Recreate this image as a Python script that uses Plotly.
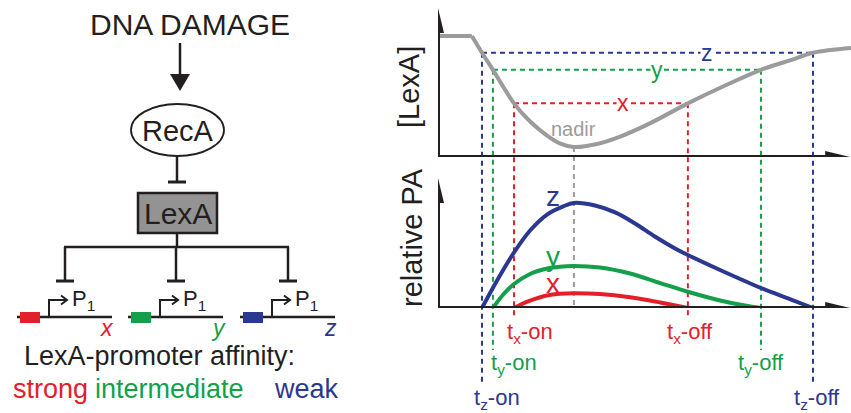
import plotly.graph_objects as go

W, H = 851, 413

# ---------------- data ----------------
genes = ["x", "y", "z"]
affinity = ["strong", "intermediate", "weak"]
gene_colors = ["#e3202a", "#14a04b", "#2b3891"]
GRAY = "#9b9b9b"
BLACK = "#231f20"

# LexA level at which each promoter switches on/off, and the times
thresholds = [3.6, 5.85, 7.0]
t_on = [18.4, 13.3, 10.65]
t_off = [60.5, 78.2, 90.8]
t_nadir = 32.9
lexa_nadir = 0.67

# [LexA] time course
lexa_flat_t = [0, 8.2]
lexa_flat_v = [8.12, 8.12]
lexa_t = [8.2, 10.65, 13.3, 18.4, 22.3, 26.4, 29.5, 32.9, 38.5, 44.1, 51.3, 60.5,
          69.0, 78.2, 85.2, 90.8, 100]
lexa_v = [8.12, 7.0, 5.85, 3.6, 2.38, 1.44, 0.91, 0.67, 0.87, 1.37, 2.26, 3.6,
          4.73, 5.85, 6.48, 7.0, 7.32]

# relative promoter activity (PA)
pa_x_t = [18.4, 20.3, 22.3, 26.4, 29.5, 32.9, 39.2, 46.5, 53.8, 60.5]
pa_x_v = [0, 0.31, 0.57, 0.96, 1.09, 1.13, 1.07, 0.82, 0.42, 0]
pa_y_t = [13.3, 15.7, 18.4, 22.3, 26.4, 29.5, 32.9, 39.2, 46.5, 53.8, 60.5, 68.3, 74.3, 78.2]
pa_y_v = [0, 1.0, 1.85, 2.62, 3.04, 3.18, 3.23, 3.11, 2.65, 1.92, 1.25, 0.58, 0.19, 0]
pa_z_t = [10.65, 14.3, 18.4, 22.3, 26.4, 30.3, 32.9, 38.0, 42.9, 47.7, 52.5, 57.4, 60.5,
          68.3, 78.2, 85.2, 90.8]
pa_z_v = [0, 2.12, 4.27, 5.96, 7.19, 7.81, 8.08, 7.88, 7.35, 6.5, 5.5, 4.58, 4.08,
          2.92, 1.54, 0.69, 0]
pa_t = [pa_x_t, pa_y_t, pa_z_t]
pa_v = [pa_x_v, pa_y_v, pa_z_v]

on_labels = ["t<sub>x</sub>-on", "t<sub>y</sub>-on", "t<sub>z</sub>-on"]
off_labels = ["t<sub>x</sub>-off", "t<sub>y</sub>-off", "t<sub>z</sub>-off"]

# ---------------- layout helpers ----------------
FONT = "Liberation Sans, Arial, sans-serif"
TOP_DOM = [1 - 157 / H, 1 - 8 / H]
BOT_DOM = [1 - 308 / H, 1 - 178 / H]
YR = [0, 10]
XR = [0, 100]


def pp(py):
    return 1 - py / H


def top_paper(v):
    return TOP_DOM[0] + (v - YR[0]) / (YR[1] - YR[0]) * (TOP_DOM[1] - TOP_DOM[0])


def bot_paper(v):
    return BOT_DOM[0] + (v - YR[0]) / (YR[1] - YR[0]) * (BOT_DOM[1] - BOT_DOM[0])


fig = go.Figure()

fig.add_trace(go.Scatter(x=lexa_flat_t, y=lexa_flat_v, mode="lines",
                         line=dict(color=GRAY, width=4), xaxis="x", yaxis="y",
                         hoverinfo="skip", showlegend=False))
fig.add_trace(go.Scatter(x=lexa_t, y=lexa_v, mode="lines",
                         line=dict(color=GRAY, width=4, shape="spline", smoothing=1.0),
                         xaxis="x", yaxis="y", hoverinfo="skip", showlegend=False))
for i, g in enumerate(genes):
    fig.add_trace(go.Scatter(x=pa_t[i], y=pa_v[i], mode="lines",
                             line=dict(color=gene_colors[i], width=4, shape="spline", smoothing=1.0),
                             xaxis="x", yaxis="y2", hoverinfo="skip", showlegend=False))

shapes = []
ann = []

DASH = "5px,4px"
bottom_ends = [318, 350, 385]
label_rows = [333, 364, 399]
on_shift = [16, 21, 15]
off_shift = [2, 0, 4]
hlabel_t = [44.8, 53.0, 65.1]

for i, g in enumerate(genes):
    c = gene_colors[i]
    th = thresholds[i]
    shapes.append(dict(type="line", xref="x", yref="y", x0=t_on[i], x1=t_off[i], y0=th, y1=th,
                       line=dict(color=c, width=2, dash=DASH), layer="below"))
    for tt in (t_on[i], t_off[i]):
        shapes.append(dict(type="line", xref="x", yref="paper", x0=tt, x1=tt,
                           y0=top_paper(th), y1=pp(bottom_ends[i]),
                           line=dict(color=c, width=2, dash=DASH), layer="below"))
    ann.append(dict(x=hlabel_t[i], y=th, xref="x", yref="y", text=g, showarrow=False,
                    font=dict(family=FONT, size=23, color=c), bgcolor="white",
                    xanchor="center", yanchor="middle", borderpad=0))
    ann.append(dict(x=t_on[i], y=pp(label_rows[i]), xref="x", yref="paper", text=on_labels[i],
                    showarrow=False, xshift=on_shift[i], font=dict(family=FONT, size=22, color=c),
                    xanchor="center", yanchor="middle"))
    ann.append(dict(x=t_off[i], y=pp(label_rows[i]), xref="x", yref="paper", text=off_labels[i],
                    showarrow=False, xshift=off_shift[i], font=dict(family=FONT, size=22, color=c),
                    xanchor="center", yanchor="middle"))

# nadir line
shapes.append(dict(type="line", xref="x", yref="paper", x0=t_nadir, x1=t_nadir,
                   y0=top_paper(lexa_nadir), y1=bot_paper(0),
                   line=dict(color=GRAY, width=2, dash=DASH), layer="below"))
ann.append(dict(x=t_nadir, y=lexa_nadir + 1.2, xref="x", yref="y", text="nadir", showarrow=False,
                font=dict(family=FONT, size=20, color=GRAY), xanchor="center", yanchor="middle"))

# curve labels in the PA panel
curve_label_v = [1.9, 4.0, 8.6]
for i, g in enumerate(genes):
    ann.append(dict(x=27.8, y=curve_label_v[i], xref="x", yref="y2", text=g, showarrow=False,
                    font=dict(family=FONT, size=28, color=gene_colors[i]),
                    xanchor="center", yanchor="middle"))

# axes with arrow heads
for yr in ("y", "y2"):
    shapes.append(dict(type="line", xref="x", yref=yr, x0=0, x1=0, y0=0, y1=YR[1] - 1.4,
                       line=dict(color=BLACK, width=4)))
    shapes.append(dict(type="path", xref="x", yref=yr, xsizemode="pixel", ysizemode="pixel",
                       xanchor=0, yanchor=YR[1], path="M -6,-25 L 0,0 L 6,-25 Z",
                       fillcolor=BLACK, line=dict(width=0)))
    shapes.append(dict(type="line", xref="x", yref=yr, x0=-0.8, x1=XR[1] - 5, y0=0, y1=0,
                       line=dict(color=BLACK, width=4)))
    shapes.append(dict(type="path", xref="x", yref=yr, xsizemode="pixel", ysizemode="pixel",
                       xanchor=99.8, yanchor=0, path="M -25,-6 L 0,0 L -25,6 Z",
                       fillcolor=BLACK, line=dict(width=0)))

ann.append(dict(x=409 / W, y=pp(87), xref="paper", yref="paper", text="[LexA]",
                textangle=-90, showarrow=False, font=dict(family=FONT, size=29, color=BLACK),
                xanchor="center", yanchor="middle"))
ann.append(dict(x=412 / W, y=pp(238), xref="paper", yref="paper", text="relative PA",
                textangle=-90, showarrow=False, font=dict(family=FONT, size=29, color=BLACK),
                xanchor="center", yanchor="middle"))

# ---------------- left pathway diagram (x3/y3 in pixel-like units) ----------------
L = dict(xref="x3", yref="y3")


def ln(x0, y0, x1, y1, w=2.5, color=BLACK):
    shapes.append(dict(type="line", x0=x0, y0=y0, x1=x1, y1=y1, line=dict(color=color, width=w), **L))


def txt(x, y, s, size, color=BLACK, **kw):
    d = dict(x=x, y=y, text=s, showarrow=False, font=dict(family=FONT, size=size, color=color),
             xanchor="center", yanchor="middle", **L)
    d.update(kw)
    ann.append(d)


txt(190, 24, "DNA DAMAGE", 30)
ln(180, 43, 180, 78, w=2.5)
shapes.append(dict(type="path", path="M 170,74 L 190,74 L 180,91 Z", fillcolor=BLACK,
                   line=dict(width=0), **L))
shapes.append(dict(type="circle", x0=131, x1=224, y0=104, y1=156,
                   line=dict(color=BLACK, width=1.8), fillcolor="white", **L))
txt(178, 131, "RecA", 29)
ln(177, 156, 177, 182)
ln(168, 182, 186, 182, w=3)
shapes.append(dict(type="rect", x0=138, x1=217, y0=193, y1=233, fillcolor="#939393",
                   line=dict(color=BLACK, width=2.5), **L))
txt(177.5, 213, "LexA", 30)
ln(177, 233, 177, 247)
ln(64, 247, 289, 247)

gene_x0 = [17, 128, 240]
for i, g in enumerate(genes):
    b = gene_x0[i]
    c = gene_colors[i]
    ln(b + 48, 247, b + 48, 281)
    ln(b + 39, 281, b + 57, 281, w=3)
    ln(b, 317, b + 95, 317)
    shapes.append(dict(type="rect", x0=b + 3, x1=b + 23, y0=312, y1=323, fillcolor=c,
                       line=dict(width=0), **L))
    shapes.append(dict(type="path", path=f"M {b+32},317 V 300 H {b+49}",
                       line=dict(color=BLACK, width=2), **L))
    shapes.append(dict(type="path", path=f"M {b+44},295.5 L {b+50},300 L {b+44},304.5",
                       line=dict(color=BLACK, width=2), **L))
    txt(b + 53, 300, "P<sub>1</sub>", 22, xanchor="left")
    txt(b + 90, 328, f"<i>{g}</i>", 23, color=c)

txt(159, 356, "LexA-promoter affinity:", 27)
aff_x = [50, 169, 306]
for i, a in enumerate(affinity):
    txt(aff_x[i], 389, a, 27, color=gene_colors[i])

fig.update_layout(
    width=W, height=H, margin=dict(l=0, r=0, t=0, b=0),
    paper_bgcolor="white", plot_bgcolor="rgba(0,0,0,0)",
    showlegend=False,
    xaxis=dict(domain=[438 / W, 1], range=XR, visible=False, anchor="y"),
    yaxis=dict(domain=TOP_DOM, range=YR, visible=False, anchor="x"),
    yaxis2=dict(domain=BOT_DOM, range=YR, visible=False, anchor="x"),
    xaxis3=dict(domain=[0, 360 / W], range=[0, 360], visible=False, anchor="y3"),
    yaxis3=dict(domain=[0, 1], range=[H, 0], visible=False, anchor="x3"),
    shapes=shapes, annotations=ann,
)

fig.write_html("out.html", config={"displayModeBar": False},
               post_script="document.body.style.margin='0';document.body.style.overflow='hidden';")
